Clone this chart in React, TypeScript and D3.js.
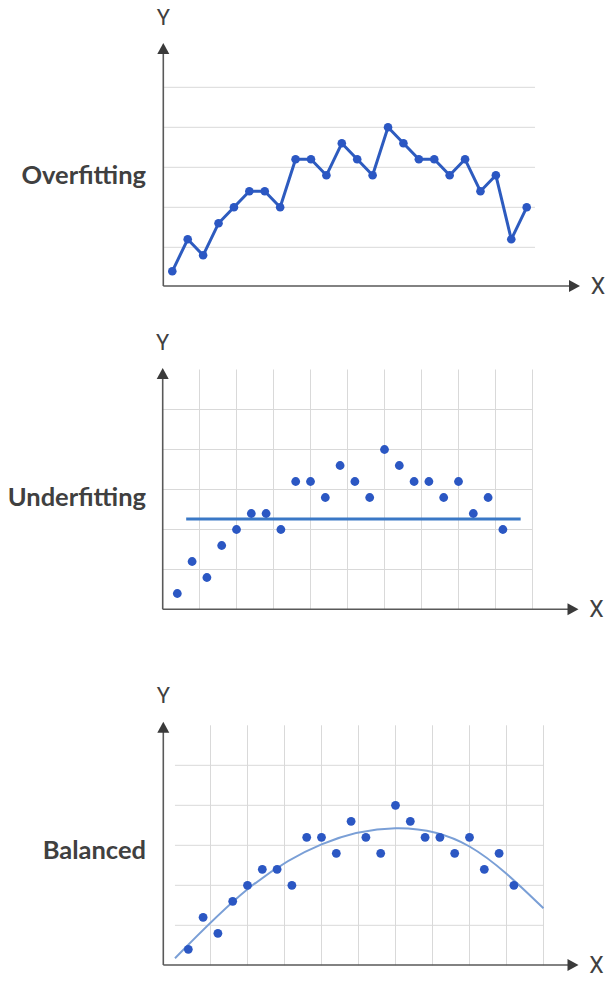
import React from "react";
import * as d3 from "d3";

// Data (y in grid units; x = point index)
const overfitY = [0.4, 1.2, 0.8, 1.6, 2.0, 2.4, 2.4, 2.0, 3.2, 3.2, 2.8, 3.6, 3.2, 2.8, 4.0, 3.6, 3.2, 3.2, 2.8, 3.2, 2.4, 2.8, 1.2, 2.0];
const scatterY = [0.4, 1.2, 0.8, 1.6, 2.0, 2.4, 2.4, 2.0, 3.2, 3.2, 2.8, 3.6, 3.2, 2.8, 4.0, 3.6, 3.2, 3.2, 2.8, 3.2, 2.4, 2.8, 2.0];
const underfitLevel = 2.26;
const underfitRange = [1.6, 24.2];
const balancedCurveX = [0.1, 5, 10, 15, 20, 25];
const balancedCurveY = [0.175, 1.9, 3.025, 3.425, 2.97, 1.425];
const hGridValues = [1, 2, 3, 4, 5];
const vGridValues = [2.5, 5, 7.5, 10, 12.5, 15, 17.5, 20, 22.5, 25];
const panelLabels = ["Overfitting", "Underfitting", "Balanced"];

const AXIS = "#595959";
const GRID = "#d9d9d9";
const DOT = "#2b57c3";
const TXT = "#404040";

function Axes({ ox, oy, yTip, xTip }: { ox: number; oy: number; yTip: number; xTip: number }) {
  return (
    <g>
      <line x1={ox} y1={oy} x2={ox} y2={yTip + 8} stroke={AXIS} strokeWidth={1.6} />
      <line x1={ox} y1={oy} x2={xTip - 8} y2={oy} stroke={AXIS} strokeWidth={1.6} />
      <path d={`M${ox},${yTip} L${ox - 6},${yTip + 11} L${ox + 6},${yTip + 11} Z`} fill="#3a3a3a" />
      <path d={`M${xTip},${oy} L${xTip - 11},${oy - 6} L${xTip - 11},${oy + 6} Z`} fill="#3a3a3a" />
      <text x={ox} y={yTip - 26} textAnchor="middle" dominantBaseline="central" fontFamily="Roboto, sans-serif" fontSize={22} fill={TXT}>Y</text>
      <text x={xTip + 18} y={oy} textAnchor="middle" dominantBaseline="central" fontFamily="Roboto, sans-serif" fontSize={23} fill={TXT}>X</text>
    </g>
  );
}

export default function App() {
  // Panel 1
  const x1 = d3.scaleLinear().domain([1, overfitY.length]).range([172.3, 526.7]);
  const y1 = d3.scaleLinear().domain([0, 5]).range([287.3, 87.3]);
  const line1 = d3.line<number>().x((_, i) => x1(i + 1)).y((d) => y1(d));

  // Panel 2
  const x2 = d3.scaleLinear().domain([0, 25]).range([162.5, 532.5]);
  const y2 = d3.scaleLinear().domain([0, 6]).range([609.5, 369.5]);

  // Panel 3
  const x3 = d3.scaleLinear().domain([0, 25]).range([173.5, 543.5]);
  const y3 = d3.scaleLinear().domain([0, 6]).range([965.3, 725.3]);
  const curve = d3
    .line<number>()
    .x((d) => x3(d))
    .y((_, i) => y3(balancedCurveY[i]))
    .curve(d3.curveNatural);

  const labelStyle = { fontFamily: "Lato, 'Open Sans', sans-serif", fontWeight: 700, fontSize: 25.5, fill: TXT } as const;

  return (
    <div style={{ position: "absolute", left: 0, top: 0 }}>
      <svg width={610} height={981} style={{ display: "block", background: "#fff" }}>
        <rect width={610} height={981} fill="#fff" />
        {/* Panel 1 */}
        {hGridValues.map((v) => (
          <line key={"g1" + v} x1={163.3} x2={535} y1={y1(v)} y2={y1(v)} stroke={GRID} strokeWidth={1} />
        ))}
        <Axes ox={163.3} oy={286} yTip={43} xTip={580} />
        <path d={line1(overfitY) || ""} fill="none" stroke="#2d5bbf" strokeWidth={3} strokeLinejoin="round" />
        {overfitY.map((v, i) => (
          <circle key={"p1" + i} cx={x1(i + 1)} cy={y1(v)} r={4.3} fill={DOT} />
        ))}
        <text x={146} y={174} textAnchor="end" dominantBaseline="central" {...labelStyle}>{panelLabels[0]}</text>

        {/* Panel 2 */}
        {hGridValues.map((v) => (
          <line key={"g2h" + v} x1={x2(0)} x2={x2(25)} y1={y2(v)} y2={y2(v)} stroke={GRID} strokeWidth={1} />
        ))}
        {vGridValues.map((v) => (
          <line key={"g2v" + v} x1={x2(v)} x2={x2(v)} y1={y2(6)} y2={y2(0)} stroke={GRID} strokeWidth={1} />
        ))}
        <Axes ox={162.7} oy={609.3} yTip={368} xTip={578.5} />
        <line x1={x2(underfitRange[0])} x2={x2(underfitRange[1])} y1={y2(underfitLevel)} y2={y2(underfitLevel)} stroke="#3a78c6" strokeWidth={3} />
        {scatterY.map((v, i) => (
          <circle key={"p2" + i} cx={x2(i + 1)} cy={y2(v)} r={4.4} fill={DOT} />
        ))}
        <text x={146} y={496} textAnchor="end" dominantBaseline="central" {...labelStyle}>{panelLabels[1]}</text>

        {/* Panel 3 */}
        {hGridValues.map((v) => (
          <line key={"g3h" + v} x1={x3(0.1)} x2={x3(25)} y1={y3(v)} y2={y3(v)} stroke={GRID} strokeWidth={1} />
        ))}
        {vGridValues.map((v) => (
          <line key={"g3v" + v} x1={x3(v)} x2={x3(v)} y1={y3(6)} y2={y3(0)} stroke={GRID} strokeWidth={1} />
        ))}
        <Axes ox={163.3} oy={965} yTip={721.7} xTip={578.5} />
        <path d={curve(balancedCurveX) || ""} fill="none" stroke="#7a9fd6" strokeWidth={2} />
        {scatterY.map((v, i) => (
          <circle key={"p3" + i} cx={x3(i + 1)} cy={y3(v)} r={4.4} fill={DOT} />
        ))}
        <text x={146} y={849} textAnchor="end" dominantBaseline="central" {...labelStyle}>{panelLabels[2]}</text>
      </svg>
    </div>
  );
}
